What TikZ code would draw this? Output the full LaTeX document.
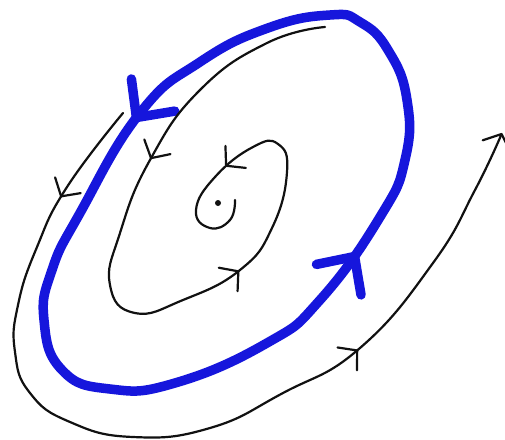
\documentclass[tikz,border=0pt]{standalone}
\usepackage{xcolor}
\usepackage{tikz}
\usetikzlibrary{arrows.meta,decorations.markings}
\definecolor{cCycle}{HTML}{1616DC}
\definecolor{cOrbit}{HTML}{111111}
\tikzset{
  orbtip/.tip={Straight Barb[length=13pt,width=30pt,round]},
  cyctip/.tip={Straight Barb[length=28pt,width=54pt,round]},
  orbit/.style={draw=cOrbit,line width=2.2pt,line cap=round,line join=round},
  cycleline/.style={draw=cCycle,line width=9.5pt,line cap=round,line join=round},
  orbmark/.style={postaction={decorate,decoration={markings,
      mark=at position #1 with {\arrow{orbtip}}}}},
  cycmark/.style={postaction={decorate,decoration={markings,
      mark=at position #1 with {\arrow{cyctip}}}}},
}

\begin{document}
\begin{tikzpicture}[x=1pt,y=-1pt]
  \fill[white] (0,0) rectangle (505,439);
  \useasboundingbox (0,0) rectangle (505,439);

  \draw[cycleline,cycmark=0.145,cycmark=0.69] plot[smooth cycle,tension=0.8] coordinates {
    (330,15) (268,28) (200,62) (140,113) (80,213) (52,270) (44,320) (62,370)
    (110,389) (175,383) (267,343) (320,300) (380,217) (405,160) (407,100)
    (388,50) (360,22)};

  \draw[orbit,orbmark=0.27,orbmark=0.612,orbmark=0.855] plot[smooth,tension=0.8] coordinates {
    (325,27) (267,43) (200,90) (150,160) (120,233) (110,285) (135,313) (183,300)
    (240,270) (272,228) (287,172) (278,144) (253,147) (215,177) (196,210)
    (210,228) (230,220) (235,200)};

  \draw[orbit,-orbtip,orbmark=0.112,orbmark=0.72] plot[smooth,tension=0.8] coordinates {
    (123,113) (67,187) (37,247) (18,305) (15,352) (30,393) (70,422) (133,437)
    (210,428) (283,393) (360,348) (433,263) (475,190) (502,133)};

  \coordinate (fixpt) at (218,203);
  \fill[cOrbit] (fixpt) circle (3pt);
\end{tikzpicture}
\end{document}
